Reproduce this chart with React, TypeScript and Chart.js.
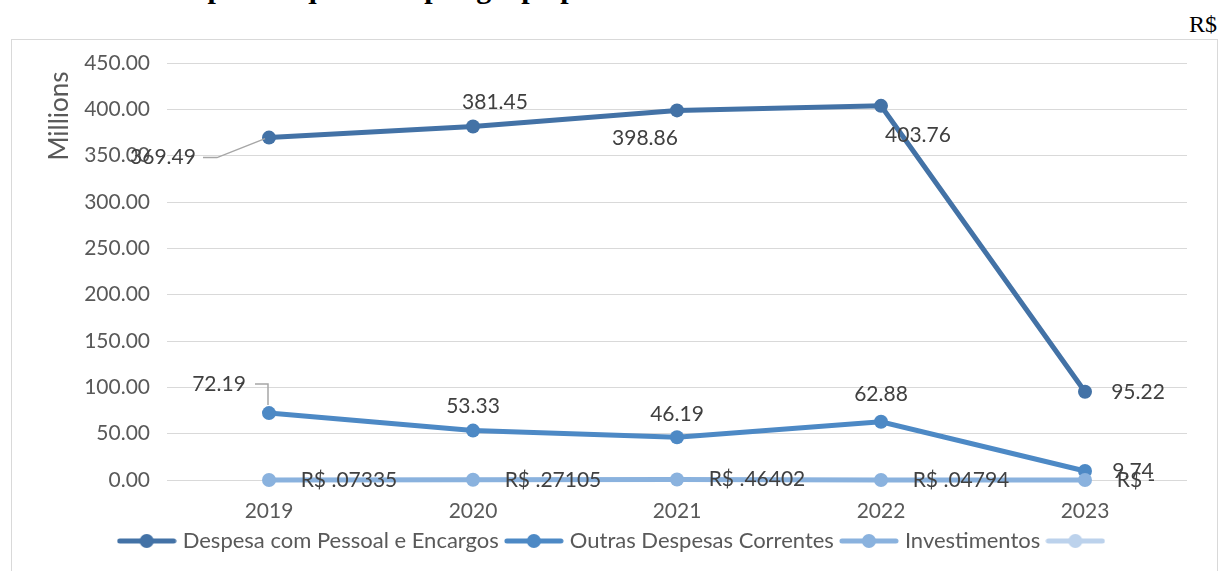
import React, { useEffect, useRef } from "react";
import { Chart, registerables } from "chart.js";

Chart.register(...registerables);

// ---- data ----
const years = ["2019", "2020", "2021", "2022", "2023"];
const pessoal = [369.49, 381.45, 398.86, 403.76, 95.22];
const outras = [72.19, 53.33, 46.19, 62.88, 9.74];
const investimentos = [0.07335, 0.27105, 0.46402, 0.04794, 0];
const semNome: number[] = [];
const seriesNames = [
  "Despesa com Pessoal e Encargos",
  "Outras Despesas Correntes",
  "Investimentos",
  "",
];
const yMin = 0;
const yMax = 450;
const yStep = 50;
const titleText = "Gráfico 3 – Despesas liquidadas por grupo por ano";
const unitText = "R$";
const axisTitle = "Millions";

// ---- styles ----
const FONT = "Lato";
const FS = 21;
const LEGEND_FS = 22;
const colors = ["#4372a6", "#4d89c5", "#8ab2de", "#bcd2ec"];
const labelOffsets: number[][][] = [
  [[-106, 20], [22, -24], [-32, 28], [37, 29], [53, 0]],
  [[-50, -29], [0, -24], [0, -23], [0, -27], [48, 0]],
  [[80, 0], [80, 0], [80, 0], [80, 0], [51, 0]],
];
// leader lines relative to point
const leaders: { s: number; i: number; path: number[][] }[] = [
  { s: 0, i: 0, path: [[-66, 20], [-52, 20], [-4, 1]] },
  { s: 1, i: 0, path: [[-14, -29], [-1, -29], [-1, -8]] },
];

const fmt2 = (v: number) => v.toFixed(2);
const fmtInv = (v: number) => (v === 0 ? "R$ -" : "R$ " + v.toFixed(5).replace(/^0/, ""));

function makeSwatch(color: string) {
  const c = document.createElement("canvas");
  c.width = 60;
  c.height = 16;
  const g = c.getContext("2d")!;
  g.strokeStyle = color;
  g.lineWidth = 5;
  g.lineCap = "round";
  g.beginPath();
  g.moveTo(3, 8);
  g.lineTo(57, 8);
  g.stroke();
  g.fillStyle = color;
  g.beginPath();
  g.arc(30, 8, 7, 0, Math.PI * 2);
  g.fill();
  return c;
}

export default function App() {
  const ref = useRef<HTMLCanvasElement>(null);

  useEffect(() => {
    if (!ref.current) return;
    const seriesData = [pessoal, outras, investimentos, semNome];
    const labelTexts = [pessoal.map(fmt2), outras.map(fmt2), investimentos.map(fmtInv)];
    const swatches = colors.map(makeSwatch);

    const labelPlugin = {
      id: "valueLabels",
      afterDraw(chart: any) {
        const ctx = chart.ctx;
        ctx.save();
        // axis title "Millions"
        ctx.save();
        ctx.translate(48, 76);
        ctx.rotate(-Math.PI / 2);
        ctx.font = `26px ${FONT}`;
        ctx.fillStyle = "#595959";
        ctx.textAlign = "center";
        ctx.textBaseline = "middle";
        ctx.fillText(axisTitle, 0, 0);
        ctx.restore();
        ctx.restore();
      },
      afterDatasetsDraw(chart: any) {
        const ctx = chart.ctx;
        ctx.save();
        ctx.strokeStyle = "#a6a6a6";
        ctx.lineWidth = 1.5;
        leaders.forEach((l) => {
          const pt = chart.getDatasetMeta(l.s).data[l.i];
          ctx.beginPath();
          l.path.forEach(([dx, dy], k) => {
            if (k === 0) ctx.moveTo(pt.x + dx, pt.y + dy);
            else ctx.lineTo(pt.x + dx, pt.y + dy);
          });
          ctx.stroke();
        });
        ctx.font = `${FS}px ${FONT}`;
        ctx.fillStyle = "#404040";
        ctx.textAlign = "center";
        ctx.textBaseline = "middle";
        labelTexts.forEach((arr, di) => {
          const meta = chart.getDatasetMeta(di);
          arr.forEach((t, i) => {
            const pt = meta.data[i];
            const [dx, dy] = labelOffsets[di][i];
            ctx.fillText(t, pt.x + dx, pt.y + dy);
          });
        });
        ctx.restore();
      },
    };

    const chart = new Chart(ref.current, {
      type: "line",
      data: {
        labels: years,
        datasets: seriesData.map((d, i) => ({
          label: seriesNames[i],
          data: d,
          borderColor: colors[i],
          backgroundColor: colors[i],
          borderWidth: 5,
          pointRadius: 7,
          pointHoverRadius: 7,
          pointBorderWidth: 0,
          tension: 0,
          clip: false as any,
          order: 3 - i,
        })),
      },
      options: {
        responsive: false,
        animation: false,
        layout: { padding: { left: 34, right: 29, top: 23, bottom: 9 } },
        plugins: {
          tooltip: { enabled: false },
          legend: {
            position: "bottom",
            labels: {
              usePointStyle: true,
              pointStyleWidth: 50,
              padding: 10,
              color: "#595959",
              font: { family: FONT, size: LEGEND_FS },
              sort: (a: any, b: any) => a.datasetIndex - b.datasetIndex,
              generateLabels: (ch: any) =>
                (Chart.defaults.plugins.legend.labels.generateLabels as any)(ch).map((it: any) => ({
                  ...it,
                  pointStyle: swatches[it.datasetIndex],
                })),
            },
          },
        },
        scales: {
          x: {
            offset: true,
            grid: { display: false, drawTicks: false },
            border: { display: false },
            ticks: {
              color: "#595959",
              font: { family: FONT, size: FS },
              padding: 19,
              maxRotation: 0,
            },
            afterFit: (s: any) => {
              s.height = 40;
            },
          },
          y: {
            min: yMin,
            max: yMax,
            grid: { color: "#d9d9d9", lineWidth: 1, drawTicks: false },
            border: { display: false },
            ticks: {
              stepSize: yStep,
              color: "#595959",
              font: { family: FONT, size: FS },
              padding: 17,
              callback: (v: any) => Number(v).toFixed(2),
            },
            afterFit: (s: any) => {
              s.width = 121;
              s.paddingTop = 0;
              s.paddingBottom = 0;
            },
          },
        },
      },
      plugins: [labelPlugin],
    });
    return () => chart.destroy();
  }, []);

  return (
    <div
      style={{
        position: "fixed",
        left: 0,
        top: 0,
        width: 1220,
        height: 571,
        background: "#fff",
        overflow: "hidden",
      }}
    >
      <div
        style={{
          position: "absolute",
          left: 10,
          top: -27,
          fontFamily: "'Liberation Serif', serif",
          fontWeight: "bold",
          fontSize: 30,
          lineHeight: "30px",
          whiteSpace: "nowrap",
          color: "#000",
        }}
      >
        {titleText}
      </div>
      <div
        style={{
          position: "absolute",
          left: 1189,
          top: 12,
          fontFamily: "'Liberation Serif', serif",
          fontSize: 24,
          lineHeight: "24px",
          color: "#000",
        }}
      >
        {unitText}
      </div>
      <div
        style={{
          position: "absolute",
          left: 11,
          top: 39,
          width: 1207,
          height: 545,
          border: "1px solid #d9d9d9",
          boxSizing: "border-box",
        }}
      >
        <canvas ref={ref} width={1204} height={531} style={{ display: "block" }} />
      </div>
    </div>
  );
}
